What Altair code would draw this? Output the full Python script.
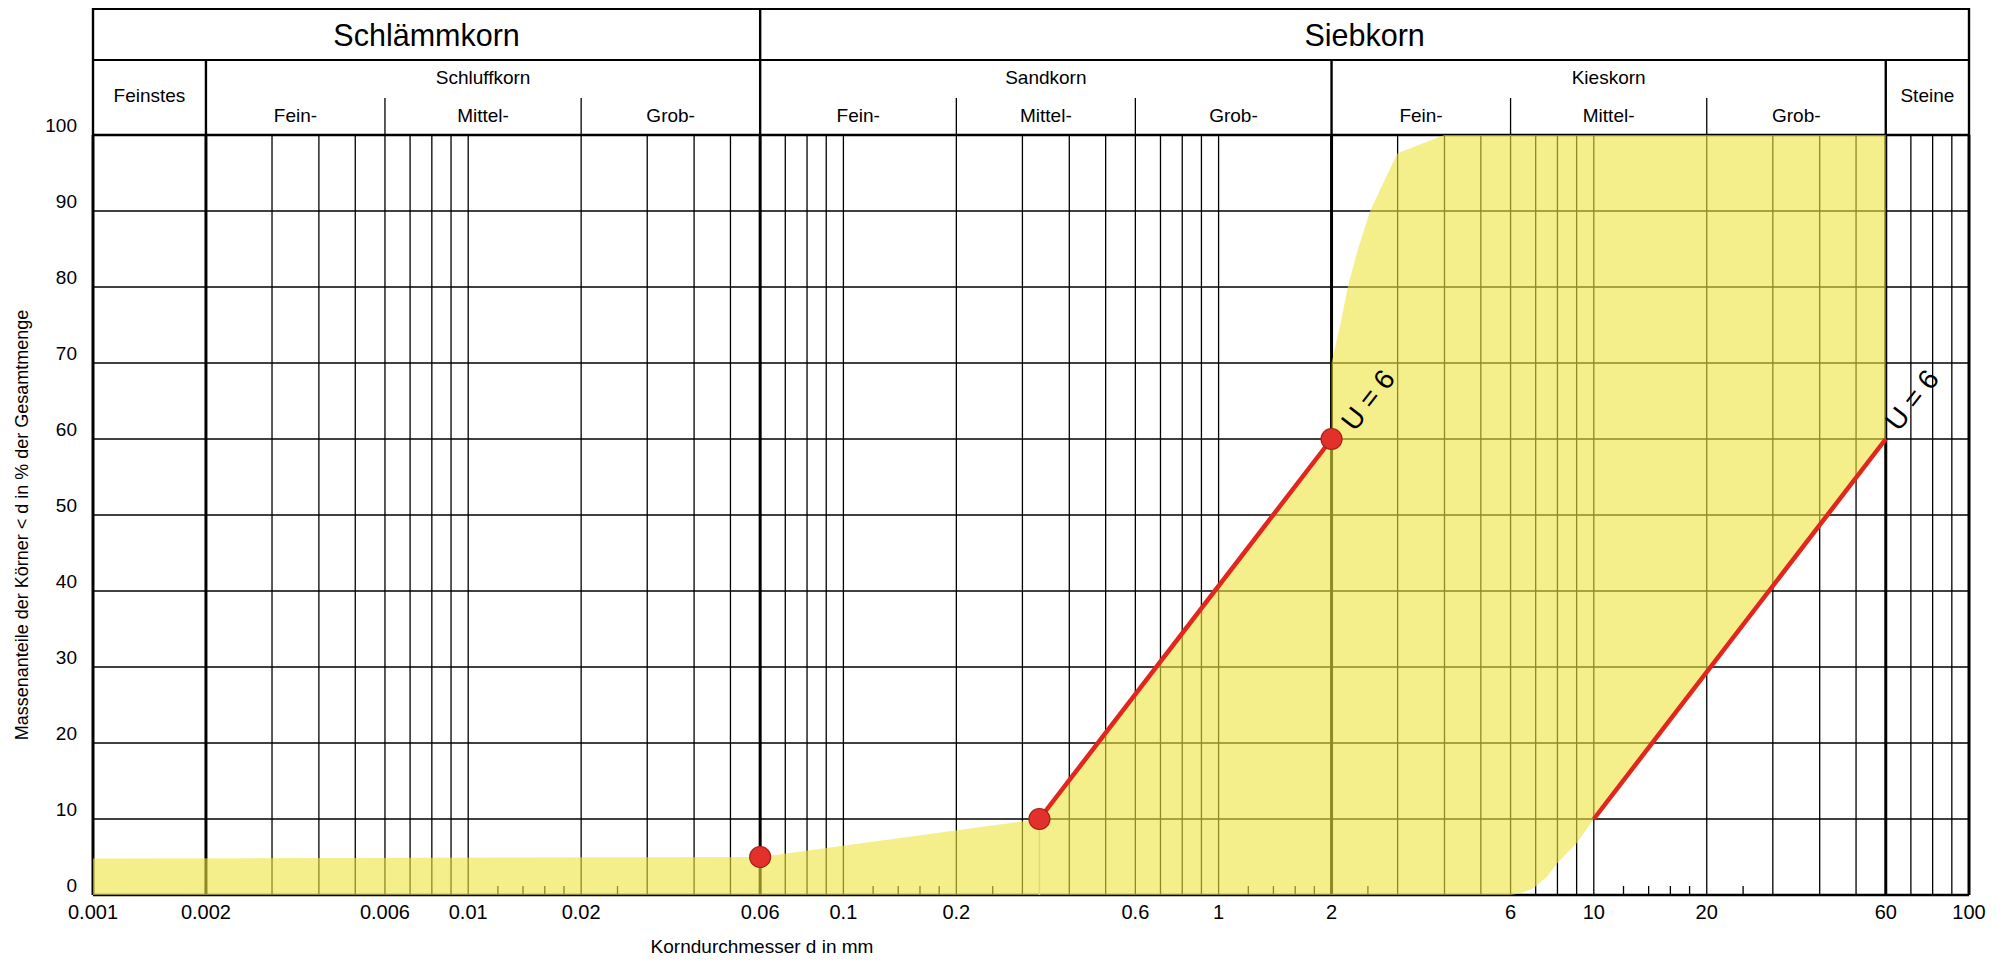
import altair as alt
import pandas as pd

FONT = "Liberation Sans"
W, H = 1876, 887          # plot area incl. header band
TOP = 127                 # pixel row of 100 %

# ---------------- data ----------------
class_bounds = [0.001, 0.002, 0.06, 2, 60, 100]
grid_d = [0.003, 0.004, 0.005, 0.006, 0.007, 0.008, 0.009,
          0.01, 0.02, 0.03, 0.04, 0.05, 0.07, 0.08, 0.09,
          0.1, 0.2, 0.3, 0.4, 0.5, 0.6, 0.7, 0.8, 0.9,
          1, 3, 4, 5, 6, 7, 8, 9,
          10, 20, 30, 40, 50, 70, 80, 90]
minor_d = [0.012, 0.014, 0.016, 0.018, 0.025,
           0.12, 0.14, 0.16, 0.18, 0.25,
           1.2, 1.4, 1.6, 1.8, 2.5,
           12, 14, 16, 18, 25]
grid_p = [10, 20, 30, 40, 50, 60, 70, 80, 90]
frame_p = [0, 100]
x_tick_labels = [0.001, 0.002, 0.006, 0.01, 0.02, 0.06, 0.1, 0.2, 0.6, 1, 2, 6, 10, 20, 60, 100]
y_tick_labels = [0, 10, 20, 30, 40, 50, 60, 70, 80, 90, 100]
x_title = "Korndurchmesser d in mm"
y_title = "Massenanteile der Körner < d in % der Gesamtmenge"

# yellow grading band (outline, clockwise)
band_d = [0.001, 0.001, 0.06, 0.333, 2, 2, 2.02, 2.11, 2.21, 2.34, 2.53, 2.81, 3.0, 4.0,
          60, 60, 10, 9, 8, 7.5, 6.9, 6.36, 6]
band_p = [0, 4.8, 5, 10, 60, 70, 71, 75, 80, 84.6, 89.9, 94.7, 97.6, 100,
          100, 60, 10, 6.8, 4.2, 2.4, 0.9, 0.2, 0]

# U = 6 lines
u_group = ["links", "links", "rechts", "rechts"]
u_d = [0.333, 2, 10, 60]
u_p = [10, 60, 10, 60]

# red points
point_d = [0.06, 0.333, 2]
point_p = [5, 10, 60]

# labels
label_d = [2.52, 71]
label_p = [65, 65]
label_text = ["U = 6", "U = 6"]

# header
main_names = ["Schlämmkorn", "Siebkorn"]
main_from = [0.001, 0.06]
main_to = [0.06, 100]
group_names = ["Feinstes", "Schluffkorn", "Sandkorn", "Kieskorn", "Steine"]
group_from = [0.001, 0.002, 0.06, 2, 60]
group_to = [0.002, 0.06, 2, 60, 100]
sub_names = ["Fein-", "Mittel-", "Grob-"] * 3
sub_parent = ["Schluffkorn"] * 3 + ["Sandkorn"] * 3 + ["Kieskorn"] * 3
sub_from = [0.002, 0.006, 0.02, 0.06, 0.2, 0.6, 2, 6, 20]
sub_to = [0.006, 0.02, 0.06, 0.2, 0.6, 2, 6, 20, 60]

# ---------------- frames ----------------
def gmean(a, b):
    return (a * b) ** 0.5

def fmt(v):
    s = ("%.6f" % v).rstrip("0").rstrip(".")
    return s

sc_x = alt.Scale(type="log", domain=[0.001, 100], nice=False)
sc_y = alt.Scale(domain=[0, 100], range=[H, TOP], nice=False)

grid_df = pd.DataFrame({"d": grid_d})
thick_df = pd.DataFrame({"d": class_bounds})
minor_df = pd.DataFrame({"d": minor_d})
hgrid_df = pd.DataFrame({"p": grid_p})
frame_df = pd.DataFrame({"p": frame_p})
band_df = pd.DataFrame({"d": band_d, "p": band_p, "i": list(range(len(band_d)))})
u_df = pd.DataFrame({"g": u_group, "d": u_d, "p": u_p})
pt_df = pd.DataFrame({"d": point_d, "p": point_p})
lab_df = pd.DataFrame({"d": label_d, "p": label_p, "t": label_text})
drop_df = pd.DataFrame({"d": [point_d[1]], "p0": [0], "p1": [point_p[1]]})
xlab_df = pd.DataFrame({"d": x_tick_labels, "t": [fmt(v) for v in x_tick_labels]})
ylab_df = pd.DataFrame({"p": y_tick_labels, "t": [str(v) for v in y_tick_labels]})

main_df = pd.DataFrame({"name": main_names, "xc": [gmean(a, b) for a, b in zip(main_from, main_to)]})
grp_df = pd.DataFrame({"name": group_names, "xc": [gmean(a, b) for a, b in zip(group_from, group_to)]})
grp_top = grp_df[grp_df["name"].isin(sub_parent)]
grp_full = grp_df[~grp_df["name"].isin(sub_parent)]
sub_df = pd.DataFrame({"name": sub_names, "xc": [gmean(a, b) for a, b in zip(sub_from, sub_to)]})

main_div = pd.DataFrame({"d": sorted(set(main_from + main_to))})
grp_div = pd.DataFrame({"d": sorted(set(group_from + group_to) - set(main_from + main_to))})
sub_div = pd.DataFrame({"d": sorted(set(sub_from + sub_to) - set(group_from + group_to))})

BLACK = "black"
thin = 1.3
thick = 3
one = pd.DataFrame({"k": [0]})

def X(field="d"):
    return alt.X(f"{field}:Q", scale=sc_x, axis=None)

def Y(field="p"):
    return alt.Y(f"{field}:Q", scale=sc_y, axis=None)

layers = []
# thin vertical grid
layers.append(alt.Chart(grid_df).mark_rule(color=BLACK, strokeWidth=thin).encode(
    x=X(), y=alt.Y(datum=0, scale=sc_y, axis=None), y2=alt.Y2(datum=100)))
# thin horizontal grid
layers.append(alt.Chart(hgrid_df).mark_rule(color=BLACK, strokeWidth=thin).encode(y=Y()))
# frame horizontal lines 0 and 100
layers.append(alt.Chart(frame_df).mark_rule(color=BLACK, strokeWidth=2.6).encode(y=Y()))
# thick vertical class bounds
layers.append(alt.Chart(thick_df).mark_rule(color=BLACK, strokeWidth=thick).encode(
    x=X(), y=alt.Y(datum=0, scale=sc_y, axis=None), y2=alt.Y2(datum=100)))
# minor ticks at the bottom
layers.append(alt.Chart(minor_df).mark_rule(color=BLACK, strokeWidth=thin).encode(
    x=X(), y=alt.value(H), y2=alt.value(H - 9)))
# faint drop line under d10
layers.append(alt.Chart(drop_df).mark_rule(color="#c8c8c8", strokeWidth=1.5).encode(
    x=X(), y=Y("p0"), y2="p1:Q"))
# yellow band
layers.append(alt.Chart(band_df).mark_line(fill="#ece43c", fillOpacity=0.6, strokeWidth=0,
                                            strokeOpacity=0).encode(
    x=X(), y=Y(), order="i:Q"))
# red U=6 lines
layers.append(alt.Chart(u_df).mark_line(color="#e2261d", strokeWidth=4.5).encode(
    x=X(), y=Y(), detail="g:N"))
# red points
layers.append(alt.Chart(pt_df).mark_point(filled=True, fill="#e2302a", stroke="#a8201a",
                                          strokeWidth=1.2, size=440, opacity=1, shape="circle").encode(
    x=X(), y=Y()))
# U = 6 labels
layers.append(alt.Chart(lab_df).mark_text(font=FONT, fontSize=28, angle=308, color=BLACK,
                                          align="center", baseline="middle").encode(
    x=X(), y=Y(), text="t:N"))

# axis labels and titles (as text through the scales)
layers.append(alt.Chart(xlab_df).mark_text(font=FONT, fontSize=20, color=BLACK, align="center",
                                           baseline="middle").encode(
    x=X(), y=alt.value(H + 18), text="t:N"))
layers.append(alt.Chart(ylab_df).mark_text(font=FONT, fontSize=19, color=BLACK, align="right",
                                           baseline="middle", dy=-9).encode(
    x=alt.value(-16), y=Y(), text="t:N"))
layers.append(alt.Chart(one).mark_text(font=FONT, fontSize=19, color=BLACK, align="center",
                                       baseline="middle", text=x_title).encode(
    x=alt.value(669), y=alt.value(939)))
layers.append(alt.Chart(one).mark_text(font=FONT, fontSize=18, color=BLACK, align="center",
                                       baseline="middle", angle=270, text=y_title).encode(
    x=alt.value(-70), y=alt.value((H + TOP) / 2 + 10)))

# header lines
layers.append(alt.Chart(one).mark_rule(color=BLACK, strokeWidth=2).encode(y=alt.value(1)))
layers.append(alt.Chart(one).mark_rule(color=BLACK, strokeWidth=2).encode(y=alt.value(52)))
layers.append(alt.Chart(main_div).mark_rule(color=BLACK, strokeWidth=2.4).encode(
    x=X(), y=alt.value(0), y2=alt.value(TOP)))
layers.append(alt.Chart(grp_div).mark_rule(color=BLACK, strokeWidth=2.4).encode(
    x=X(), y=alt.value(52), y2=alt.value(TOP)))
layers.append(alt.Chart(sub_div).mark_rule(color=BLACK, strokeWidth=thin).encode(
    x=X(), y=alt.value(90), y2=alt.value(TOP)))

# header texts
def htext(df, ypix, size):
    return alt.Chart(df).mark_text(font=FONT, fontSize=size, color=BLACK, align="center",
                                   baseline="middle").encode(
        x=X("xc"), y=alt.value(ypix), text="name:N")

layers.append(htext(main_df, 29, 30.5))
layers.append(htext(grp_top, 70, 19))
layers.append(htext(grp_full, 88, 19))
layers.append(htext(sub_df, 108, 19))

chart = alt.layer(*layers).properties(
    width=W, height=H,
    autosize=alt.AutoSizeParams(type="none"),
    padding={"left": 85, "top": 0, "right": 25, "bottom": 66},
).configure_view(strokeWidth=0)

chart.save("out.html", embed_options={"renderer": "svg", "actions": False})
